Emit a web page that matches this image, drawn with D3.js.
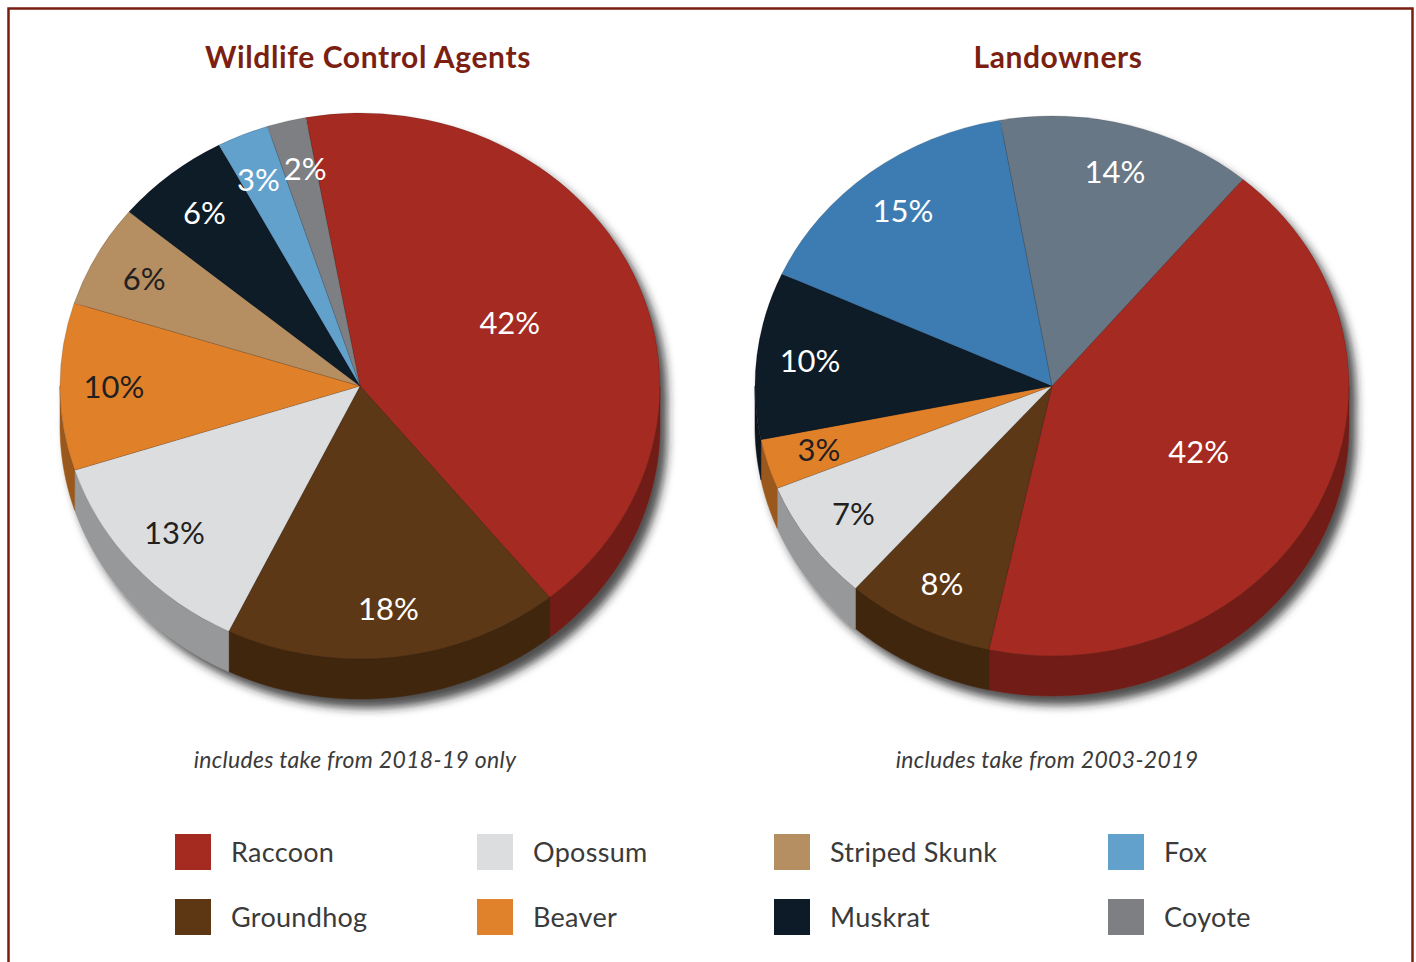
<!DOCTYPE html>
<html>
<head>
<meta charset="utf-8">
<script src="https://cdn.jsdelivr.net/npm/d3@7"></script>
<style>
  body { margin: 0; background: #fff; }
  svg { display: block; font-family: Lato, "Open Sans", sans-serif; }
</style>
</head>
<body>
<svg id="chart"></svg>
<script>
// categories, in the order the slices run clockwise
const species = ["Raccoon", "Groundhog", "Opossum", "Beaver", "Striped Skunk", "Muskrat", "Fox", "Coyote"];

// percent of take
const agentValues = [42, 18.1, 12.8, 9.9, 6.1, 6.2, 2.8, 2.1];
const landownerValues = [42.3, 8.1, 7.3, 3.0, 0, 10.0, 15.4, 13.9];

const titles = ["Wildlife Control Agents", "Landowners"];
const notes = ["includes take from 2018-19 only", "includes take from 2003-2019"];

// colours
const legendColors = ["#a52b21", "#5d3714", "#dcdddf", "#e0812b", "#b58e62", "#0d1a27", "#63a1cd", "#7e7f83"];
const landownerColors = ["#a52b21", "#5d3714", "#dcdddf", "#e0812b", "#b58e62", "#0d1a27", "#3e7cb2", "#687785"];
const darkText = ["Opossum", "Beaver", "Striped Skunk"];

const width = 1416;
const height = 962;

const svg = d3.select("#chart")
    .attr("width", width)
    .attr("height", height)
    .attr("viewBox", [0, 0, width, height]);

// drop shadow under each pie
const defs = svg.append("defs");
const shadow = defs.append("filter")
    .attr("id", "shadow")
    .attr("x", "-20%").attr("y", "-20%")
    .attr("width", "140%").attr("height", "140%");
shadow.append("feDropShadow")
    .attr("dx", 7).attr("dy", 9)
    .attr("stdDeviation", 5)
    .attr("flood-color", "#222")
    .attr("flood-opacity", 0.8);

// frame
svg.append("rect")
    .attr("x", 8.5).attr("y", 8.5)
    .attr("width", 1404).attr("height", 1000)
    .attr("fill", "none")
    .attr("stroke", "#7a1e10")
    .attr("stroke-width", 2.5);

const pies = [
    { cx: 360, cy: 386, rx: 300, ry: 273, start: -10.4, values: agentValues, colors: legendColors, title: titles[0], note: notes[0], titleX: 368 },
    { cx: 1052, cy: 386, rx: 297, ry: 270, start: 40, values: landownerValues, colors: landownerColors, title: titles[1], note: notes[1], titleX: 1058 }
];

const depth = 40;

function drawPie(p) {
    const rad = Math.PI / 180;
    const pie = d3.pie()
        .sort(null)
        .value(d => d.value)
        .startAngle(p.start * rad)
        .endAngle(p.start * rad + 2 * Math.PI);

    const slices = pie(species.map((s, i) => ({ name: s, value: p.values[i], color: p.colors[i] })))
        .filter(d => d.data.value > 0);

    const pt = (a, dy) => [p.cx + p.rx * Math.sin(a), p.cy - p.ry * Math.cos(a) + dy];

    const g = svg.append("g").attr("filter", "url(#shadow)");

    // side walls, only the front half shows
    const sides = g.append("g");
    slices.forEach(d => {
        [-2, 0, 2].forEach(k => {
            const lo = Math.max(d.startAngle, Math.PI / 2 + k * Math.PI);
            const hi = Math.min(d.endAngle, 3 * Math.PI / 2 + k * Math.PI);
            if (hi <= lo) return;
            const n = 40;
            const top = d3.range(n + 1).map(i => pt(lo + (hi - lo) * i / n, 0));
            const bottom = d3.range(n + 1).map(i => pt(hi - (hi - lo) * i / n, depth));
            sides.append("path")
                .attr("d", d3.line()(top.concat(bottom)) + "Z")
                .attr("fill", d3.color(d.data.color).darker(1.05))
                .attr("stroke", d3.color(d.data.color).darker(1.05))
                .attr("stroke-width", 0.5);
        });
    });

    // top face: a circle squashed to an ellipse
    const arc = d3.arc().innerRadius(0).outerRadius(p.rx);
    g.append("g")
        .attr("transform", `translate(${p.cx},${p.cy}) scale(1,${p.ry / p.rx})`)
        .selectAll("path")
        .data(slices)
        .join("path")
        .attr("d", arc)
        .attr("fill", d => d.data.color)
        .attr("stroke", "rgba(0,0,0,0.18)")
        .attr("stroke-width", 0.8);

    // percentage labels
    const labelR = d => d.data.value > 30 ? 0.55 : 0.82;
    const mid = d => (d.startAngle + d.endAngle) / 2;
    const labels = svg.append("g")
        .selectAll("text")
        .data(slices)
        .join("text")
        .attr("text-anchor", "middle")
        .attr("dy", "0.36em")
        .attr("font-size", 31)
        .attr("fill", d => darkText.includes(d.data.name) ? "#231f20" : "#fff")
        .text(d => Math.round(d.data.value) + "%")
        .each(function (d) {
            d.lx = p.cx + labelR(d) * p.rx * Math.sin(mid(d));
            d.ly = p.cy - labelR(d) * p.ry * Math.cos(mid(d));
            d.lw = this.getComputedTextLength();
        });

    // push apart labels of thin neighbouring slices
    const nodes = labels.data();
    for (let iter = 0; iter < 10; iter++) {
        for (let i = 0; i < nodes.length; i++) {
            for (let j = i + 1; j < nodes.length; j++) {
                const a = nodes[i], b = nodes[j];
                const need = (a.lw + b.lw) / 2 + 4;
                const dx = b.lx - a.lx;
                if (Math.abs(b.ly - a.ly) < 26 && Math.abs(dx) < need) {
                    const shift = (need - Math.abs(dx)) / 2 * (dx >= 0 ? 1 : -1);
                    a.lx -= shift;
                    b.lx += shift;
                }
            }
        }
    }
    labels.attr("x", d => d.lx).attr("y", d => d.ly);

    svg.append("text")
        .attr("x", p.titleX)
        .attr("y", 68)
        .attr("text-anchor", "middle")
        .attr("font-size", 30)
        .attr("font-weight", 700)
        .attr("letter-spacing", 0.6)
        .attr("fill", "#7b1f12")
        .text(p.title);

    svg.append("text")
        .attr("x", p.cx - 5)
        .attr("y", 768)
        .attr("text-anchor", "middle")
        .attr("font-size", 23)
        .attr("font-style", "italic")
        .attr("letter-spacing", 0.3)
        .attr("fill", "#3a3a3a")
        .text(p.note);
}

pies.forEach(drawPie);

// legend, four columns by two rows
const legendX = d3.scaleOrdinal().domain([0, 1, 2, 3]).range([175, 477, 774, 1108]);
const legendY = d3.scaleOrdinal().domain([0, 1]).range([834, 899]);
const legendOrder = ["Raccoon", "Groundhog", "Opossum", "Beaver", "Striped Skunk", "Muskrat", "Fox", "Coyote"];

const legend = svg.append("g")
    .selectAll("g")
    .data(legendOrder)
    .join("g")
    .attr("transform", (d, i) => `translate(${legendX(Math.floor(i / 2))},${legendY(i % 2)})`);

legend.append("rect")
    .attr("width", 36)
    .attr("height", 36)
    .attr("fill", d => legendColors[species.indexOf(d)]);

legend.append("text")
    .attr("x", 56)
    .attr("y", 28)
    .attr("font-size", 27)
    .attr("letter-spacing", 0.3)
    .attr("fill", "#3a3a3a")
    .text(d => d);
</script>
</body>
</html>
